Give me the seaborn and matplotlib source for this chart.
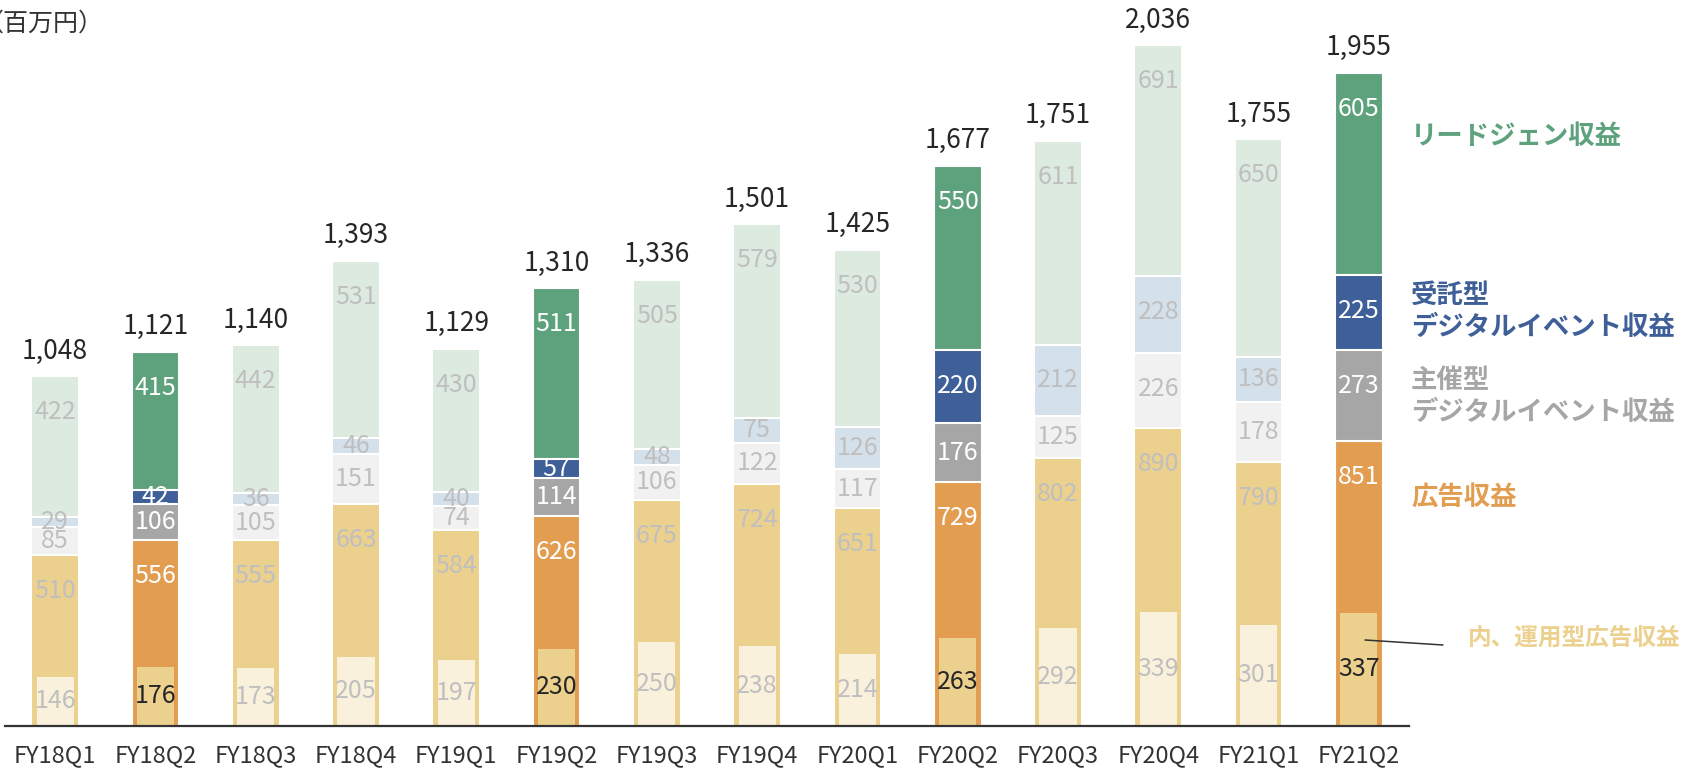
import matplotlib
matplotlib.use("Agg")
import numpy as np
import pandas as pd
import seaborn as sns
import matplotlib.pyplot as plt
from matplotlib.lines import Line2D

# ---------------- data ----------------
quarters = ["FY18Q1", "FY18Q2", "FY18Q3", "FY18Q4", "FY19Q1", "FY19Q2", "FY19Q3",
            "FY19Q4", "FY20Q1", "FY20Q2", "FY20Q3", "FY20Q4", "FY21Q1", "FY21Q2"]
ad_revenue = [510, 556, 555, 663, 584, 626, 675, 724, 651, 729, 802, 890, 790, 851]
ad_ops_revenue = [146, 176, 173, 205, 197, 230, 250, 238, 214, 263, 292, 339, 301, 337]
hosted_event = [85, 106, 105, 151, 74, 114, 106, 122, 117, 176, 125, 226, 178, 273]
contract_event = [29, 42, 36, 46, 40, 57, 48, 75, 126, 220, 212, 228, 136, 225]
leadgen = [422, 415, 442, 531, 430, 511, 505, 579, 530, 550, 611, 691, 650, 605]
totals = [1048, 1121, 1140, 1393, 1129, 1310, 1336, 1501, 1425, 1677, 1751, 2036, 1755, 1955]
highlighted = ["FY18Q2", "FY19Q2", "FY20Q2", "FY21Q2"]

unit_label = "（百万円）"
legend_leadgen = "リードジェン収益"
legend_contract = ["受託型", "デジタルイベント収益"]
legend_hosted = ["主催型", "デジタルイベント収益"]
legend_ad = "広告収益"
legend_ad_ops = "内、運用型広告収益"

# ---------------- style ----------------
C_GREEN, C_GREEN_L = "#5DA27C", "#DCEADF"
C_BLUE, C_BLUE_L = "#3F5F98", "#D4E0EA"
C_GRAY, C_GRAY_L = "#A6A6A6", "#F1F1F1"
C_ORANGE, C_TAN = "#E39D51", "#ECD08D"
C_INNER_L = "#FAF1DC"
C_FADE_TXT = "#BFBFBF"
C_DARK = "#262626"

sns.set_theme(style="white")
plt.rcParams["font.family"] = ["Noto Sans CJK JP", "DejaVu Sans"]

W, H = 1687, 771
fig = plt.figure(figsize=(W / 100, H / 100), dpi=100)
ax = fig.add_axes([5 / W, 45.3 / H, 1404 / W, 725.7 / H])

df = pd.DataFrame({
    "quarter": quarters,
    "ad": ad_revenue,
    "ad_ops": ad_ops_revenue,
    "hosted": hosted_event,
    "contract": contract_event,
    "leadgen": leadgen,
})
df["c_ad"] = df["ad"]
df["c_hosted"] = df["c_ad"] + df["hosted"]
df["c_contract"] = df["c_hosted"] + df["contract"]
df["c_leadgen"] = df["c_contract"] + df["leadgen"]

layers = [
    ("c_leadgen", C_GREEN, C_GREEN_L),
    ("c_contract", C_BLUE, C_BLUE_L),
    ("c_hosted", C_GRAY, C_GRAY_L),
    ("c_ad", C_ORANGE, C_TAN),
]
BAR_W = 0.475
for col, hi, lo in layers:
    pal = {q: (hi if q in highlighted else lo) for q in quarters}
    sns.barplot(data=df, x="quarter", y=col, hue="quarter", palette=pal,
                order=quarters, hue_order=quarters, dodge=False, width=BAR_W,
                saturation=1, errorbar=None, legend=False,
                edgecolor="white", linewidth=1.5, ax=ax)

pal_inner = {q: (C_TAN if q in highlighted else C_INNER_L) for q in quarters}
sns.barplot(data=df, x="quarter", y="ad_ops", hue="quarter", palette=pal_inner,
            order=quarters, hue_order=quarters, dodge=False, width=0.37,
            saturation=1, errorbar=None, legend=False, linewidth=0, ax=ax)

# ---------------- labels ----------------
PX_PER_UNIT = 725.7 / 2171
TOP_OFF = 36 / PX_PER_UNIT
SEG_FS = 18
for i, q in enumerate(quarters):
    hl = q in highlighted
    seg_color = "white" if hl else C_FADE_TXT
    bottoms = [0, df.loc[i, "c_ad"], df.loc[i, "c_hosted"], df.loc[i, "c_contract"]]
    heights = [ad_revenue[i], hosted_event[i], contract_event[i], leadgen[i]]
    for b, h in zip(bottoms, heights):
        y = b + h - min(TOP_OFF, h / 2)
        ax.text(i, y, f"{h:,}", ha="center", va="center", fontsize=SEG_FS,
                color=seg_color, zorder=5)
    ax.text(i, ad_ops_revenue[i] / 2, f"{ad_ops_revenue[i]:,}", ha="center",
            va="center", fontsize=SEG_FS, color=C_DARK if hl else C_FADE_TXT, zorder=5)
    top = df.loc[i, "c_leadgen"]
    ax.text(i, top + 25 / PX_PER_UNIT, f"{totals[i]:,}", ha="center", va="center",
            fontsize=19, color=C_DARK, zorder=5)

ax.set_xlim(-0.5, 13.5)
ax.set_ylim(0, 2171)
ax.set_yticks([])
ax.set_xlabel("")
ax.set_ylabel("")
for s in ["top", "right", "left"]:
    ax.spines[s].set_visible(False)
ax.spines["bottom"].set_color("#333333")
ax.spines["bottom"].set_linewidth(1.6)
ax.tick_params(axis="x", length=0, pad=13, labelsize=17, labelcolor="#333333")

# unit label (left parenthesis partially clipped at the figure edge, as in reference)
fig.text(-21 / W, 1 - 23.5 / H, unit_label, ha="left", va="center",
         fontsize=18, color="#333333")

# legend-like annotations
def ftext(x, y, s, color, fs=19):
    fig.text(x / W, 1 - y / H, s, ha="left", va="center", fontsize=fs,
             fontweight="bold", color=color)

ftext(1411, 137, legend_leadgen, C_GREEN)
ftext(1411, 295, legend_contract[0], C_BLUE)
ftext(1411, 327, legend_contract[1], C_BLUE)
ftext(1411, 380, legend_hosted[0], C_GRAY)
ftext(1411, 412, legend_hosted[1], C_GRAY)
ftext(1411, 498, legend_ad, C_ORANGE)
ftext(1468, 638, legend_ad_ops, C_TAN, fs=17)
fig.add_artist(Line2D([1365 / W, 1443 / W], [1 - 640 / H, 1 - 645 / H],
                      color="#333333", linewidth=1.1))

fig.savefig("out.png", dpi=100)
